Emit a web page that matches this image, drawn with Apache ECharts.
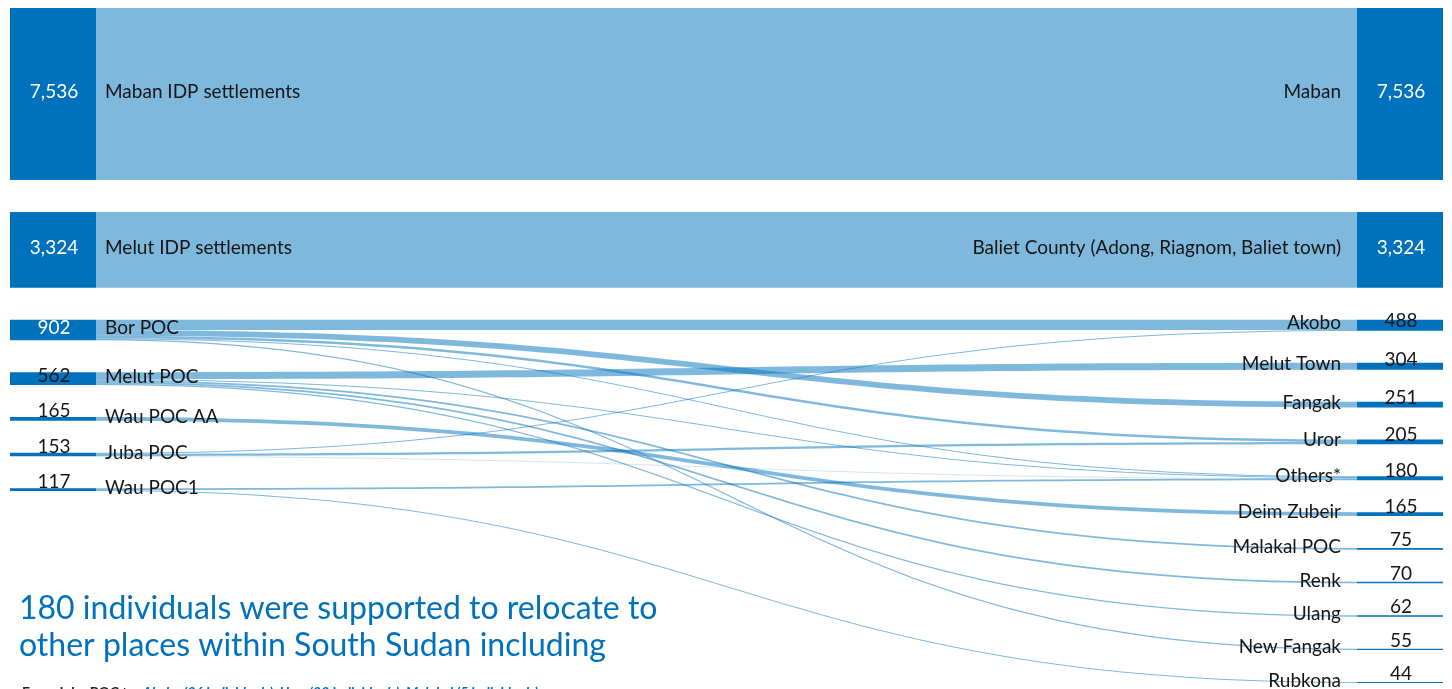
<!DOCTYPE html>
<html>
<head>
<meta charset="utf-8">
<script src="https://cdn.jsdelivr.net/npm/echarts@6/dist/echarts.min.js"></script>
<style>
html,body{margin:0;padding:0;background:#ffffff;}
#c{width:1452px;height:689px;}
</style>
</head>
<body>
<div id="c"></div>
<script>
// ---- data ----
const sourceNodes = ['Maban IDP settlements', 'Melut IDP settlements', 'Bor POC', 'Melut POC', 'Wau POC AA', 'Juba POC', 'Wau POC1'];
const targetNodes = ['Maban', 'Baliet County (Adong, Riagnom, Baliet town)', 'Akobo', 'Melut Town', 'Fangak', 'Uror', 'Others*', 'Deim Zubeir', 'Malakal POC', 'Renk', 'Ulang', 'New Fangak', 'Rubkona'];

const linkSources = ['Maban IDP settlements', 'Melut IDP settlements',
  'Bor POC', 'Bor POC', 'Bor POC', 'Bor POC', 'Bor POC',
  'Melut POC', 'Melut POC', 'Melut POC', 'Melut POC', 'Melut POC',
  'Wau POC AA',
  'Juba POC', 'Juba POC', 'Juba POC',
  'Wau POC1', 'Wau POC1'];
const linkTargets = ['Maban', 'Baliet County (Adong, Riagnom, Baliet town)',
  'Akobo', 'Fangak', 'Uror', 'Others*', 'New Fangak',
  'Melut Town', 'Others*', 'Malakal POC', 'Renk', 'Ulang',
  'Deim Zubeir',
  'Akobo', 'Uror', 'Others*',
  'Others*', 'Rubkona'];
const linkValues = [7536, 3324,
  452, 251, 108, 36, 55,
  304, 51, 75, 70, 62,
  165,
  36, 97, 20,
  73, 44];
const fadedLinks = ['Juba POC>Others*'];

const headline = '180 individuals were supported to relocate to\nother places within South Sudan including';
const noteLead = 'From Juba POC to: ';
const noteBody = 'Akobo (36 individuals), Uror (22 individuals), Malakal (5 individuals)';

// ---- build ----
const BLUE = '#0071bc';
const totals = {};
linkSources.forEach((s, i) => {
  totals[s] = (totals[s] || 0) + linkValues[i];
  const t = linkTargets[i];
  totals[t] = (totals[t] || 0) + linkValues[i];
});
const allNodes = sourceNodes.concat(targetNodes);
const isBig = n => totals[n] > 700;
const fmt = v => Number(v).toLocaleString('en-US');

const links = linkSources.map((s, i) => {
  const key = s + '>' + linkTargets[i];
  const l = { source: s, target: linkTargets[i], value: linkValues[i] };
  if (fadedLinks.indexOf(key) >= 0) l.lineStyle = { opacity: 0.18 };
  return l;
});

const geom = {
  type: 'sankey',
  left: 10, right: 9, top: 8, bottom: 6,
  nodeWidth: 86, nodeGap: 32,
  layoutIterations: 0,
  draggable: false,
  silent: true,
  emphasis: { disabled: true },
  animation: false
};

const valueSeries = Object.assign({}, geom, {
  itemStyle: { color: BLUE, borderWidth: 0 },
  lineStyle: { color: BLUE, opacity: 0.5, curveness: 0.5 },
  label: {
    show: true, fontFamily: 'Lato', fontSize: 19,
    formatter: p => fmt(p.value)
  },
  data: allNodes.map(n => ({
    name: n,
    label: isBig(n)
      ? { position: 'inside', color: '#ffffff', offset: [1, -2] }
      : { position: 'insideBottom', distance: 0, color: '#151515', offset: [1, 0] }
  })),
  links: links,
  z: 2
});

const nameSeries = Object.assign({}, geom, {
  itemStyle: { color: BLUE, opacity: 0 },
  lineStyle: { color: BLUE, opacity: 0 },
  label: {
    show: true, fontFamily: 'Lato', fontSize: 19, color: '#151515',
    formatter: p => p.name
  },
  data: allNodes.map(n => ({
    name: n,
    label: sourceNodes.indexOf(n) >= 0
      ? { position: 'right', distance: 9, offset: [0, -2] }
      : { position: 'left', distance: 16, offset: [0, -2] }
  })),
  links: linkSources.map((s, i) => ({ source: s, target: linkTargets[i], value: linkValues[i] })),
  z: 3
});

const chart = echarts.init(document.getElementById('c'), null, { renderer: 'canvas' });
chart.setOption({
  backgroundColor: '#ffffff',
  animation: false,
  title: [
    {
      text: headline, left: 19, top: 590, padding: 0,
      textStyle: { color: BLUE, fontFamily: 'Lato', fontSize: 32, fontWeight: 'normal', lineHeight: 37 }
    },
    {
      text: '{a|' + noteLead + '}{b|' + noteBody + '}', left: 22, top: 685, padding: 0,
      textStyle: {
        rich: {
          a: { color: '#222222', fontFamily: 'Lato', fontSize: 14 },
          b: { color: BLUE, fontFamily: 'Lato', fontSize: 14, fontStyle: 'italic' }
        }
      }
    }
  ],
  series: [valueSeries, nameSeries]
});
</script>
</body>
</html>
